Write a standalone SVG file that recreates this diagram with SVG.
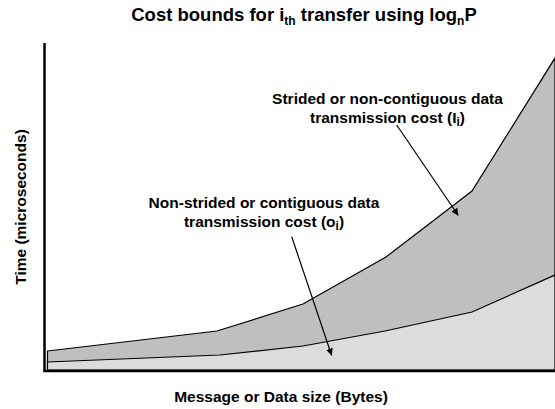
<svg xmlns="http://www.w3.org/2000/svg" width="555" height="409" viewBox="0 0 555 409">
<style>
  text { font-family: "Liberation Sans", Arial, sans-serif; font-weight: bold; fill: #000; }
  .lbl { font-size: 15.5px; text-anchor: middle; }
  .title { font-size: 18.5px; text-anchor: middle; }
  .sub { font-size: 12px; }
  .curve { stroke: #000; stroke-width: 1.2; stroke-linejoin: miter; }
  .axis { stroke: #000; stroke-width: 2.5; fill: none; }
  .conn { stroke: #000; stroke-width: 1.2; fill: none; marker-end: url(#arrow); }
</style>
<defs>
  <marker id="arrow" viewBox="0 0 10 10" refX="10" refY="5" markerWidth="7" markerHeight="7" markerUnits="userSpaceOnUse" orient="auto">
    <path d="M0,0 L10,5 L0,10 z" fill="#000"/>
  </marker>
</defs>
<rect width="555" height="409" fill="#fff"/>
<text class="title" x="304" y="21">Cost bounds for i<tspan class="sub" dy="4">th</tspan><tspan dy="-4"> transfer using log</tspan><tspan class="sub" dy="4">n</tspan><tspan dy="-4">P</tspan></text>
<g id="area-strided">
  <polygon class="curve" fill="#bfbfbf" points="47.5,351 217,331 303,304 386,257 472,191 555,58 555,370 47.5,370"/>
</g>
<g id="area-contiguous">
  <polygon class="curve" fill="#dcdcdc" points="47.5,362 220,355 303,346 385,331 472,312 555,275 555,370 47.5,370"/>
</g>
<g id="axes">
  <line class="axis" x1="44.5" y1="43" x2="44.5" y2="372"/>
  <line class="axis" x1="43.5" y1="371" x2="555" y2="371"/>
  <text class="lbl" x="281" y="402">Message or Data size (Bytes)</text>
  <text class="lbl" transform="translate(26,207) rotate(-90)" x="0" y="0">Time (microseconds)</text>
</g>
<g id="label-strided">
  <text class="lbl" x="387.5" y="104">Strided or non-contiguous data</text>
  <text class="lbl" x="387.5" y="123">transmission cost (I<tspan class="sub" dy="3">i</tspan><tspan dy="-3">)</tspan></text>
</g>
<g id="label-contiguous">
  <text class="lbl" x="264" y="208">Non-strided or contiguous data</text>
  <text class="lbl" x="264" y="227">transmission cost (o<tspan class="sub" dy="3">i</tspan><tspan dy="-3">)</tspan></text>
</g>
<g id="connectors">
  <line class="conn" x1="396.7" y1="125" x2="458.3" y2="215.5"/>
  <line class="conn" x1="291.7" y1="236.7" x2="331.7" y2="355.5"/>
</g>
</svg>
